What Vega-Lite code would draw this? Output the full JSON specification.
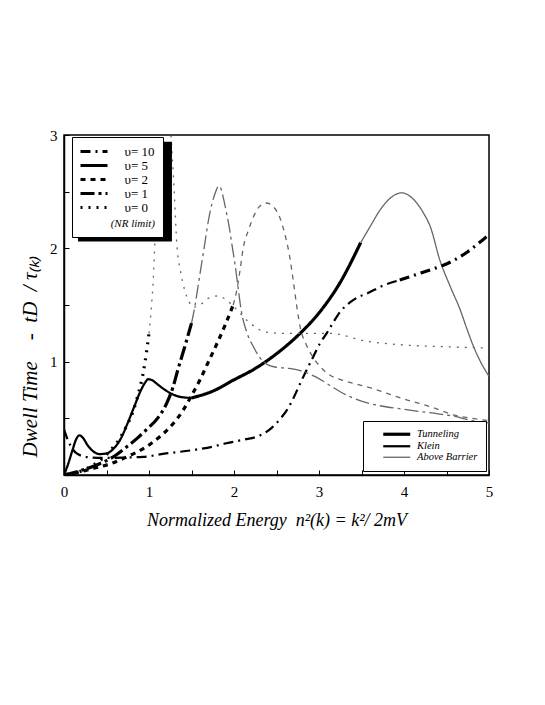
{
  "$schema": "https://vega.github.io/schema/vega-lite/v6.json",
  "autosize": {"type": "none"},
  "padding": {"left": 64, "top": 135, "right": 56, "bottom": 230},
  "width": 425,
  "height": 340,
  "background": "white",
  "config": {
    "font": "Liberation Serif",
    "view": {"stroke": "black", "strokeWidth": 1.5},
    "axis": {"domainColor": "black", "domainWidth": 1.5, "tickColor": "black", "tickWidth": 1, "labelColor": "black", "titleColor": "black", "grid": false, "labelFont": "Liberation Serif", "titleFont": "Liberation Serif"}
  },
  "datasets": {
    "curves": [
      {"v": 5, "regime": "Klein", "x": 0, "y": 0}, {"v": 5, "regime": "Klein", "x": 0.05, "y": 0.1}, {"v": 5, "regime": "Klein", "x": 0.1, "y": 0.22}, {"v": 5, "regime": "Klein", "x": 0.14, "y": 0.31}, {"v": 5, "regime": "Klein", "x": 0.18, "y": 0.35}, {"v": 5, "regime": "Klein", "x": 0.22, "y": 0.33}, {"v": 5, "regime": "Klein", "x": 0.28, "y": 0.26}, {"v": 5, "regime": "Klein", "x": 0.35, "y": 0.205}, {"v": 5, "regime": "Klein", "x": 0.42, "y": 0.185}, {"v": 5, "regime": "Klein", "x": 0.5, "y": 0.19}, {"v": 5, "regime": "Klein", "x": 0.58, "y": 0.23}, {"v": 5, "regime": "Klein", "x": 0.66, "y": 0.31}, {"v": 5, "regime": "Klein", "x": 0.75, "y": 0.46}, {"v": 5, "regime": "Klein", "x": 0.83, "y": 0.61}, {"v": 5, "regime": "Klein", "x": 0.9, "y": 0.74}, {"v": 5, "regime": "Klein", "x": 0.95, "y": 0.81}, {"v": 5, "regime": "Klein", "x": 0.99, "y": 0.845}, {"v": 5, "regime": "Klein", "x": 1.04, "y": 0.835}, {"v": 5, "regime": "Klein", "x": 1.1, "y": 0.8}, {"v": 5, "regime": "Klein", "x": 1.2, "y": 0.745}, {"v": 5, "regime": "Klein", "x": 1.3, "y": 0.705}, {"v": 5, "regime": "Klein", "x": 1.4, "y": 0.685}, {"v": 5, "regime": "Klein", "x": 1.5, "y": 0.68},
      {"v": 5, "regime": "Tunneling", "x": 1.5, "y": 0.68}, {"v": 5, "regime": "Tunneling", "x": 1.75, "y": 0.74}, {"v": 5, "regime": "Tunneling", "x": 2.0, "y": 0.84}, {"v": 5, "regime": "Tunneling", "x": 2.25, "y": 0.94}, {"v": 5, "regime": "Tunneling", "x": 2.5, "y": 1.07}, {"v": 5, "regime": "Tunneling", "x": 2.75, "y": 1.23}, {"v": 5, "regime": "Tunneling", "x": 3.0, "y": 1.43}, {"v": 5, "regime": "Tunneling", "x": 3.25, "y": 1.7}, {"v": 5, "regime": "Tunneling", "x": 3.49, "y": 2.05},
      {"v": 5, "regime": "Above Barrier", "x": 3.49, "y": 2.05}, {"v": 5, "regime": "Above Barrier", "x": 3.6, "y": 2.19}, {"v": 5, "regime": "Above Barrier", "x": 3.72, "y": 2.34}, {"v": 5, "regime": "Above Barrier", "x": 3.85, "y": 2.45}, {"v": 5, "regime": "Above Barrier", "x": 3.97, "y": 2.49}, {"v": 5, "regime": "Above Barrier", "x": 4.07, "y": 2.46}, {"v": 5, "regime": "Above Barrier", "x": 4.15, "y": 2.4}, {"v": 5, "regime": "Above Barrier", "x": 4.23, "y": 2.31}, {"v": 5, "regime": "Above Barrier", "x": 4.31, "y": 2.19}, {"v": 5, "regime": "Above Barrier", "x": 4.42, "y": 1.9}, {"v": 5, "regime": "Above Barrier", "x": 4.54, "y": 1.67}, {"v": 5, "regime": "Above Barrier", "x": 4.66, "y": 1.46}, {"v": 5, "regime": "Above Barrier", "x": 4.74, "y": 1.29}, {"v": 5, "regime": "Above Barrier", "x": 4.82, "y": 1.13}, {"v": 5, "regime": "Above Barrier", "x": 4.9, "y": 1.0}, {"v": 5, "regime": "Above Barrier", "x": 5.0, "y": 0.87},
      {"v": 10, "regime": "Klein", "x": 0, "y": 0.4}, {"v": 10, "regime": "Klein", "x": 0.05, "y": 0.3}, {"v": 10, "regime": "Klein", "x": 0.1, "y": 0.23}, {"v": 10, "regime": "Klein", "x": 0.15, "y": 0.19}, {"v": 10, "regime": "Klein", "x": 0.2, "y": 0.17}, {"v": 10, "regime": "Klein", "x": 0.31, "y": 0.155}, {"v": 10, "regime": "Klein", "x": 0.5, "y": 0.15}, {"v": 10, "regime": "Klein", "x": 0.75, "y": 0.155}, {"v": 10, "regime": "Klein", "x": 0.93, "y": 0.16}, {"v": 10, "regime": "Klein", "x": 1.2, "y": 0.19}, {"v": 10, "regime": "Klein", "x": 1.52, "y": 0.22}, {"v": 10, "regime": "Klein", "x": 1.75, "y": 0.25}, {"v": 10, "regime": "Klein", "x": 1.91, "y": 0.28}, {"v": 10, "regime": "Klein", "x": 2.1, "y": 0.31}, {"v": 10, "regime": "Klein", "x": 2.31, "y": 0.35}, {"v": 10, "regime": "Klein", "x": 2.45, "y": 0.42}, {"v": 10, "regime": "Klein", "x": 2.55, "y": 0.5}, {"v": 10, "regime": "Klein", "x": 2.62, "y": 0.57}, {"v": 10, "regime": "Klein", "x": 2.7, "y": 0.68}, {"v": 10, "regime": "Klein", "x": 2.78, "y": 0.81}, {"v": 10, "regime": "Klein", "x": 2.85, "y": 0.92}, {"v": 10, "regime": "Klein", "x": 2.93, "y": 1.04}, {"v": 10, "regime": "Klein", "x": 3.01, "y": 1.16}, {"v": 10, "regime": "Klein", "x": 3.09, "y": 1.25}, {"v": 10, "regime": "Klein", "x": 3.17, "y": 1.35}, {"v": 10, "regime": "Klein", "x": 3.26, "y": 1.45}, {"v": 10, "regime": "Klein", "x": 3.36, "y": 1.52}, {"v": 10, "regime": "Klein", "x": 3.46, "y": 1.57}, {"v": 10, "regime": "Klein", "x": 3.56, "y": 1.6}, {"v": 10, "regime": "Klein", "x": 3.75, "y": 1.67}, {"v": 10, "regime": "Klein", "x": 3.95, "y": 1.72},
      {"v": 10, "regime": "Tunneling", "x": 3.95, "y": 1.72}, {"v": 10, "regime": "Tunneling", "x": 4.15, "y": 1.77}, {"v": 10, "regime": "Tunneling", "x": 4.35, "y": 1.82}, {"v": 10, "regime": "Tunneling", "x": 4.55, "y": 1.88}, {"v": 10, "regime": "Tunneling", "x": 4.75, "y": 1.97}, {"v": 10, "regime": "Tunneling", "x": 4.95, "y": 2.09}, {"v": 10, "regime": "Tunneling", "x": 5.0, "y": 2.12},
      {"v": 2, "regime": "Tunneling", "x": 0, "y": 0}, {"v": 2, "regime": "Tunneling", "x": 0.2, "y": 0.03}, {"v": 2, "regime": "Tunneling", "x": 0.35, "y": 0.06}, {"v": 2, "regime": "Tunneling", "x": 0.55, "y": 0.1}, {"v": 2, "regime": "Tunneling", "x": 0.74, "y": 0.16}, {"v": 2, "regime": "Tunneling", "x": 0.95, "y": 0.24}, {"v": 2, "regime": "Tunneling", "x": 1.13, "y": 0.34}, {"v": 2, "regime": "Tunneling", "x": 1.28, "y": 0.45}, {"v": 2, "regime": "Tunneling", "x": 1.4, "y": 0.57}, {"v": 2, "regime": "Tunneling", "x": 1.5, "y": 0.7}, {"v": 2, "regime": "Tunneling", "x": 1.6, "y": 0.84}, {"v": 2, "regime": "Tunneling", "x": 1.7, "y": 1.0}, {"v": 2, "regime": "Tunneling", "x": 1.8, "y": 1.16}, {"v": 2, "regime": "Tunneling", "x": 1.9, "y": 1.33}, {"v": 2, "regime": "Tunneling", "x": 1.99, "y": 1.5},
      {"v": 2, "regime": "Above Barrier", "x": 1.99, "y": 1.5}, {"v": 2, "regime": "Above Barrier", "x": 2.03, "y": 1.62}, {"v": 2, "regime": "Above Barrier", "x": 2.07, "y": 1.8}, {"v": 2, "regime": "Above Barrier", "x": 2.11, "y": 2.01}, {"v": 2, "regime": "Above Barrier", "x": 2.17, "y": 2.16}, {"v": 2, "regime": "Above Barrier", "x": 2.23, "y": 2.28}, {"v": 2, "regime": "Above Barrier", "x": 2.3, "y": 2.37}, {"v": 2, "regime": "Above Barrier", "x": 2.38, "y": 2.4}, {"v": 2, "regime": "Above Barrier", "x": 2.46, "y": 2.37}, {"v": 2, "regime": "Above Barrier", "x": 2.54, "y": 2.27}, {"v": 2, "regime": "Above Barrier", "x": 2.6, "y": 2.12}, {"v": 2, "regime": "Above Barrier", "x": 2.65, "y": 1.95}, {"v": 2, "regime": "Above Barrier", "x": 2.7, "y": 1.7}, {"v": 2, "regime": "Above Barrier", "x": 2.74, "y": 1.48}, {"v": 2, "regime": "Above Barrier", "x": 2.78, "y": 1.3}, {"v": 2, "regime": "Above Barrier", "x": 2.85, "y": 1.15}, {"v": 2, "regime": "Above Barrier", "x": 2.93, "y": 1.04}, {"v": 2, "regime": "Above Barrier", "x": 3.01, "y": 0.96}, {"v": 2, "regime": "Above Barrier", "x": 3.13, "y": 0.88}, {"v": 2, "regime": "Above Barrier", "x": 3.26, "y": 0.84}, {"v": 2, "regime": "Above Barrier", "x": 3.4, "y": 0.81}, {"v": 2, "regime": "Above Barrier", "x": 3.6, "y": 0.77}, {"v": 2, "regime": "Above Barrier", "x": 3.8, "y": 0.72}, {"v": 2, "regime": "Above Barrier", "x": 4.0, "y": 0.67}, {"v": 2, "regime": "Above Barrier", "x": 4.19, "y": 0.63}, {"v": 2, "regime": "Above Barrier", "x": 4.4, "y": 0.58}, {"v": 2, "regime": "Above Barrier", "x": 4.58, "y": 0.53}, {"v": 2, "regime": "Above Barrier", "x": 4.8, "y": 0.5}, {"v": 2, "regime": "Above Barrier", "x": 5.0, "y": 0.48},
      {"v": 1, "regime": "Tunneling", "x": 0, "y": 0}, {"v": 1, "regime": "Tunneling", "x": 0.2, "y": 0.04}, {"v": 1, "regime": "Tunneling", "x": 0.42, "y": 0.1}, {"v": 1, "regime": "Tunneling", "x": 0.6, "y": 0.17}, {"v": 1, "regime": "Tunneling", "x": 0.74, "y": 0.25}, {"v": 1, "regime": "Tunneling", "x": 0.87, "y": 0.33}, {"v": 1, "regime": "Tunneling", "x": 0.97, "y": 0.4}, {"v": 1, "regime": "Tunneling", "x": 1.1, "y": 0.5}, {"v": 1, "regime": "Tunneling", "x": 1.2, "y": 0.62}, {"v": 1, "regime": "Tunneling", "x": 1.28, "y": 0.77}, {"v": 1, "regime": "Tunneling", "x": 1.34, "y": 0.93}, {"v": 1, "regime": "Tunneling", "x": 1.42, "y": 1.13}, {"v": 1, "regime": "Tunneling", "x": 1.5, "y": 1.34},
      {"v": 1, "regime": "Above Barrier", "x": 1.5, "y": 1.34}, {"v": 1, "regime": "Above Barrier", "x": 1.54, "y": 1.49}, {"v": 1, "regime": "Above Barrier", "x": 1.58, "y": 1.68}, {"v": 1, "regime": "Above Barrier", "x": 1.62, "y": 1.87}, {"v": 1, "regime": "Above Barrier", "x": 1.66, "y": 2.06}, {"v": 1, "regime": "Above Barrier", "x": 1.7, "y": 2.25}, {"v": 1, "regime": "Above Barrier", "x": 1.74, "y": 2.39}, {"v": 1, "regime": "Above Barrier", "x": 1.78, "y": 2.49}, {"v": 1, "regime": "Above Barrier", "x": 1.82, "y": 2.55}, {"v": 1, "regime": "Above Barrier", "x": 1.85, "y": 2.52}, {"v": 1, "regime": "Above Barrier", "x": 1.87, "y": 2.46}, {"v": 1, "regime": "Above Barrier", "x": 1.91, "y": 2.32}, {"v": 1, "regime": "Above Barrier", "x": 1.95, "y": 2.16}, {"v": 1, "regime": "Above Barrier", "x": 1.98, "y": 2.01}, {"v": 1, "regime": "Above Barrier", "x": 2.01, "y": 1.87}, {"v": 1, "regime": "Above Barrier", "x": 2.04, "y": 1.7}, {"v": 1, "regime": "Above Barrier", "x": 2.09, "y": 1.43}, {"v": 1, "regime": "Above Barrier", "x": 2.15, "y": 1.26}, {"v": 1, "regime": "Above Barrier", "x": 2.23, "y": 1.13}, {"v": 1, "regime": "Above Barrier", "x": 2.3, "y": 1.04}, {"v": 1, "regime": "Above Barrier", "x": 2.38, "y": 0.98}, {"v": 1, "regime": "Above Barrier", "x": 2.5, "y": 0.95}, {"v": 1, "regime": "Above Barrier", "x": 2.65, "y": 0.94}, {"v": 1, "regime": "Above Barrier", "x": 2.78, "y": 0.92}, {"v": 1, "regime": "Above Barrier", "x": 2.95, "y": 0.87}, {"v": 1, "regime": "Above Barrier", "x": 3.13, "y": 0.79}, {"v": 1, "regime": "Above Barrier", "x": 3.26, "y": 0.73}, {"v": 1, "regime": "Above Barrier", "x": 3.4, "y": 0.68}, {"v": 1, "regime": "Above Barrier", "x": 3.6, "y": 0.63}, {"v": 1, "regime": "Above Barrier", "x": 3.8, "y": 0.6}, {"v": 1, "regime": "Above Barrier", "x": 4.0, "y": 0.58}, {"v": 1, "regime": "Above Barrier", "x": 4.19, "y": 0.56}, {"v": 1, "regime": "Above Barrier", "x": 4.4, "y": 0.54}, {"v": 1, "regime": "Above Barrier", "x": 4.58, "y": 0.52}, {"v": 1, "regime": "Above Barrier", "x": 4.8, "y": 0.48}, {"v": 1, "regime": "Above Barrier", "x": 5.0, "y": 0.46},
      {"v": 0, "regime": "Tunneling", "x": 0, "y": 0}, {"v": 0, "regime": "Tunneling", "x": 0.25, "y": 0.05}, {"v": 0, "regime": "Tunneling", "x": 0.5, "y": 0.18}, {"v": 0, "regime": "Tunneling", "x": 0.7, "y": 0.38}, {"v": 0, "regime": "Tunneling", "x": 0.85, "y": 0.65}, {"v": 0, "regime": "Tunneling", "x": 0.95, "y": 0.98}, {"v": 0, "regime": "Tunneling", "x": 1.0, "y": 1.25},
      {"v": 0, "regime": "Above Barrier", "x": 1.0, "y": 1.25}, {"v": 0, "regime": "Above Barrier", "x": 1.03, "y": 1.5}, {"v": 0, "regime": "Above Barrier", "x": 1.05, "y": 1.72}, {"v": 0, "regime": "Above Barrier", "x": 1.07, "y": 2.07}, {"v": 0, "regime": "Above Barrier", "x": 1.1, "y": 2.6}, {"v": 0, "regime": "Above Barrier", "x": 1.14, "y": 3.3}, {"v": 0, "regime": "Above Barrier", "x": 1.18, "y": 3.6}, {"v": 0, "regime": "Above Barrier", "x": 1.22, "y": 3.4}, {"v": 0, "regime": "Above Barrier", "x": 1.26, "y": 2.98}, {"v": 0, "regime": "Above Barrier", "x": 1.29, "y": 2.6}, {"v": 0, "regime": "Above Barrier", "x": 1.33, "y": 2.01}, {"v": 0, "regime": "Above Barrier", "x": 1.37, "y": 1.8}, {"v": 0, "regime": "Above Barrier", "x": 1.42, "y": 1.63}, {"v": 0, "regime": "Above Barrier", "x": 1.47, "y": 1.53}, {"v": 0, "regime": "Above Barrier", "x": 1.52, "y": 1.48}, {"v": 0, "regime": "Above Barrier", "x": 1.6, "y": 1.5}, {"v": 0, "regime": "Above Barrier", "x": 1.7, "y": 1.56}, {"v": 0, "regime": "Above Barrier", "x": 1.82, "y": 1.58}, {"v": 0, "regime": "Above Barrier", "x": 1.9, "y": 1.55}, {"v": 0, "regime": "Above Barrier", "x": 1.99, "y": 1.49}, {"v": 0, "regime": "Above Barrier", "x": 2.19, "y": 1.34}, {"v": 0, "regime": "Above Barrier", "x": 2.38, "y": 1.26}, {"v": 0, "regime": "Above Barrier", "x": 2.6, "y": 1.25}, {"v": 0, "regime": "Above Barrier", "x": 2.78, "y": 1.25}, {"v": 0, "regime": "Above Barrier", "x": 3.13, "y": 1.25}, {"v": 0, "regime": "Above Barrier", "x": 3.56, "y": 1.18}, {"v": 0, "regime": "Above Barrier", "x": 3.95, "y": 1.15}, {"v": 0, "regime": "Above Barrier", "x": 4.54, "y": 1.13}, {"v": 0, "regime": "Above Barrier", "x": 5.0, "y": 1.12}
    ]
  },
  "layer": [
    {
      "data": {"name": "curves"},
      "mark": {"type": "line", "clip": true, "interpolate": "monotone"},
      "encoding": {
        "x": {"field": "x", "type": "quantitative", "scale": {"domain": [0, 5], "nice": false},
          "axis": {"values": [0, 0.5, 1, 1.5, 2, 2.5, 3, 3.5, 4, 4.5, 5], "format": ".0f", "labelExpr": "datum.value % 1 === 0 ? datum.label : ''", "tickSize": -5, "labelPadding": 14, "labelFontSize": 15, "labelFlush": false,
            "title": "Normalized Energy\u00a0\u00a0n²(k) = k²/ 2mV", "titleFontSize": 18, "titleFontStyle": "italic", "titleFontWeight": "normal", "titleY": 50, "titleBaseline": "alphabetic"}},
        "y": {"field": "y", "type": "quantitative", "scale": {"domain": [0, 3], "nice": false},
          "axis": {"values": [0, 0.5, 1, 1.5, 2, 2.5, 3], "format": ".0f", "labelExpr": "datum.value % 1 === 0 && datum.value > 0 ? datum.label : ''", "tickSize": -5, "labelPadding": 12, "labelFontSize": 15, "labelFlush": false,
            "title": "Dwell Time\u00a0\u00a0\u00a0\u00a0-\u00a0\u00a0tD\u00a0\u00a0/\u00a0τ₍ₖ₎", "titleFontSize": 21, "titleFontStyle": "italic", "titleFontWeight": "normal", "titleX": -28, "titleY": 221, "titleBaseline": "alphabetic"}},
        "strokeDash": {"field": "v", "type": "nominal",
          "scale": {"domain": [10, 5, 2, 1, 0], "range": [[10, 5, 2, 5], [1, 0], [5, 5], [14, 4, 3, 4], [2, 6]]},
          "legend": {"orient": "none", "legendX": 8, "legendY": 2, "title": "(NR limit)", "titleOrient": "bottom", "titleAnchor": "end", "titleFontStyle": "italic", "titleFontWeight": "normal", "titleFontSize": 11, "titleFont": "Liberation Serif", "titleColor": "black", "titlePadding": 3,
            "labelExpr": "'υ= ' + datum.label", "labelFont": "Liberation Serif", "labelFontSize": 13, "labelColor": "black", "labelOffset": 24,
            "symbolType": "M-3,0H3", "symbolSize": 81, "symbolOffset": 7.5, "symbolStrokeWidth": 3, "symbolStrokeColor": "black", "symbolFillColor": "transparent", "rowPadding": 0,
            "fillColor": "white", "strokeColor": "black", "padding": 8}},
        "color": {"field": "regime", "type": "nominal",
          "scale": {"domain": ["Tunneling", "Klein", "Above Barrier"], "range": ["black", "black", "#666666"]},
          "legend": {"orient": "none", "legendX": 299, "legendY": 286, "title": null, "labelFont": "Liberation Serif", "labelFontStyle": "italic", "labelFontSize": 10.5, "labelColor": "black", "labelOffset": 15, "symbolType": "M-4.5,0H4.5", "symbolSize": 36, "symbolOffset": 20.5, "symbolFillColor": "transparent", "rowPadding": 0, "fillColor": "white", "strokeColor": "black", "padding": 8}},
        "strokeWidth": {"field": "regime", "type": "ordinal",
          "scale": {"domain": ["Tunneling", "Klein", "Above Barrier"], "range": [3.2, 1.3, 0.7]},
          "legend": {"orient": "none", "legendX": 299, "legendY": 286, "title": null, "labelFont": "Liberation Serif", "labelFontStyle": "italic", "labelFontSize": 10.5, "labelColor": "black", "labelOffset": 15, "symbolType": "M-4.5,0H4.5", "symbolSize": 36, "symbolOffset": 20.5, "symbolFillColor": "transparent", "rowPadding": 0, "fillColor": "white", "strokeColor": "black", "padding": 8}}
      }
    },
    {
      "data": {"values": [{}]},
      "mark": {"type": "rect", "color": "black"},
      "encoding": {
        "x": {"datum": 0.165},
        "x2": {"datum": 1.27},
        "y": {"datum": 2.94},
        "y2": {"datum": 2.06}
      }
    }
  ]
}
